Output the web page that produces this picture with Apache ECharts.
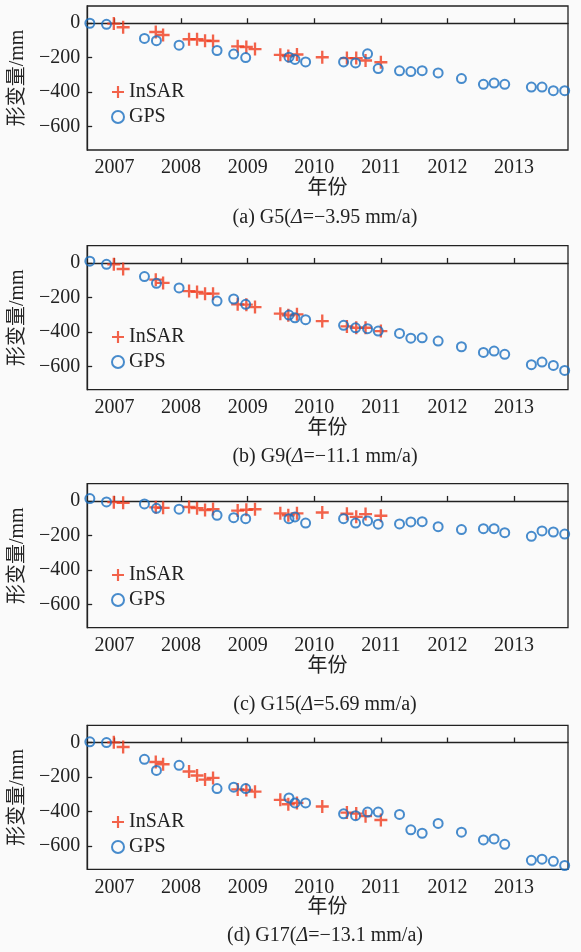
<!DOCTYPE html>
<html>
<head>
<meta charset="utf-8">
<script src="https://cdn.jsdelivr.net/npm/echarts@6/dist/echarts.min.js"></script>
<style>
  html, body { margin: 0; padding: 0; background: #fafafa; }
  #chart { width: 581px; height: 952px; }
</style>
</head>
<body>
<div id="chart"></div>
<script>
// acquisition dates (decimal year)
const gpsDates = [2006.63, 2006.88, 2007.45, 2007.63, 2007.97, 2008.54, 2008.79, 2008.97, 2009.62, 2009.71,
  2009.87, 2010.44, 2010.62, 2010.80, 2010.96, 2011.28, 2011.45, 2011.62, 2011.86, 2012.21,
  2012.54, 2012.70, 2012.86, 2013.26, 2013.42, 2013.59, 2013.76]
const insarDates = [2006.99, 2007.13, 2007.62, 2007.73, 2008.12, 2008.24, 2008.36, 2008.48, 2008.85, 2008.98,
  2009.11, 2009.49, 2009.61, 2009.74, 2010.12, 2010.49, 2010.63, 2010.77, 2011.00]

// deformation, mm
const g5Gps = [0, -6, -88, -101, -127, -158, -179, -199, -197, -210, -224, -224, -230, -177, -263, -276, -280, -275, -288, -321, -354, -347, -354, -370, -370, -391, -391]
const g5Insar = [-2, -23, -51, -68, -93, -93, -101, -103, -134, -138, -150, -183, -190, -181, -197, -202, -202, -216, -226]
const g9Gps = [10, -8, -79, -118, -145, -221, -209, -240, -302, -318, -329, -362, -376, -381, -395, -409, -436, -434, -453, -486, -519, -511, -530, -590, -575, -594, -623]
const g9Insar = [-8, -35, -97, -116, -163, -168, -178, -178, -240, -242, -256, -294, -304, -298, -337, -368, -376, -376, -395]
const g15Gps = [14, -6, -17, -43, -48, -83, -97, -103, -103, -93, -128, -103, -128, -116, -135, -133, -122, -120, -149, -166, -161, -161, -184, -205, -174, -180, -192]
const g15Insar = [-7, -11, -37, -40, -35, -42, -53, -47, -56, -51, -48, -72, -83, -72, -67, -74, -92, -76, -86]
const g17Gps = [4, 0, -97, -162, -132, -267, -259, -267, -321, -350, -350, -413, -424, -403, -403, -417, -506, -526, -469, -520, -565, -559, -590, -683, -676, -689, -713]
const g17Insar = [1, -26, -113, -126, -168, -191, -215, -205, -272, -275, -285, -332, -358, -350, -371, -406, -412, -427, -449]

const yearTicks = [2007, 2008, 2009, 2010, 2011, 2012, 2013]
const mmTicks = [0, -200, -400, -600]
const captions = ['(a) G5({i|Δ}=−3.95 mm/a)', '(b) G9({i|Δ}=−11.1 mm/a)', '(c) G15({i|Δ}=5.69 mm/a)', '(d) G17({i|Δ}=−13.1 mm/a)']

const panels = [[g5Insar, g5Gps], [g9Insar, g9Gps], [g15Insar, g15Gps], [g17Insar, g17Gps]]

const FONT = '"Liberation Serif", "Times New Roman", "Noto Sans CJK SC", serif'
const RED = '#f03c1e'
const BLUE = '#1a6fc0'
const PLUS = 'path://M4.1,0H5.9V4.1H10V5.9H5.9V10H4.1V5.9H0V4.1H4.1Z'

const gridTops = [6, 245.7, 483.7, 725.3]
const legendTops = [77, 322, 560, 807]
const captionY = [218, 457, 705, 936]

const zip = (xs, ys) => xs.map((x, i) => [x, ys[i]])
const minus = v => String(v).replace('-', '−')
const txt = { fontFamily: FONT, fontSize: 20, color: '#222' }

const grid = [], xAxis = [], yAxis = [], series = [], legend = [], graphic = []
gridTops.forEach((top, i) => {
  grid.push({
    left: 81.7, width: 486.3, top: top, height: 144,
    show: true, borderColor: '#222', borderWidth: 1.3, backgroundColor: 'transparent'
  })
  xAxis.push({
    type: 'value', gridIndex: i, min: 2006.59, max: 2013.81,
    name: '年份', nameLocation: 'middle', nameGap: 28, nameTextStyle: txt,
    axisLine: { lineStyle: { color: '#222', width: 1.3 } },
    axisTick: { inside: true, length: 5, customValues: yearTicks, lineStyle: { color: '#222', width: 1.3 } },
    axisLabel: { ...txt, customValues: yearTicks, margin: 8, formatter: v => String(v) },
    splitLine: { show: false }
  })
  yAxis.push({
    type: 'value', gridIndex: i, min: -735, max: 100,
    name: '形变量/mm', nameLocation: 'middle', nameGap: 50, nameTextStyle: txt,
    axisLine: { lineStyle: { color: '#222', width: 1.3 } },
    axisTick: { inside: true, length: 5, customValues: mmTicks, lineStyle: { color: '#222', width: 1.3 } },
    axisLabel: { ...txt, customValues: mmTicks, margin: 7, formatter: minus },
    splitLine: { show: false }
  })
  series.push({
    type: 'scatter', name: 'InSAR', xAxisIndex: i, yAxisIndex: i,
    data: zip(insarDates, panels[i][0]),
    symbol: PLUS, symbolSize: 13, itemStyle: { color: RED }
  })
  series.push({
    type: 'scatter', name: 'GPS', xAxisIndex: i, yAxisIndex: i,
    data: zip(gpsDates, panels[i][1]),
    symbol: 'circle', symbolSize: 9,
    itemStyle: { color: 'transparent', borderColor: BLUE, borderWidth: 2 }
  })
  legend.push({
    orient: 'vertical', left: 106, top: legendTops[i], itemWidth: 12, itemHeight: 12, itemGap: 5,
    selectedMode: false, textStyle: txt,
    data: [
      { name: 'InSAR', icon: PLUS, itemStyle: { color: RED } },
      { name: 'GPS', icon: 'circle', itemStyle: { color: 'transparent', borderColor: BLUE, borderWidth: 2 } }
    ]
  })
  graphic.push({
    type: 'text', x: 325, y: captionY[i],
    style: {
      text: captions[i], align: 'center', verticalAlign: 'middle',
      fontFamily: FONT, fontSize: 20, fill: '#222',
      rich: { i: { fontFamily: FONT, fontSize: 20, fontStyle: 'italic', fill: '#222' } }
    }
  })
})

const chart = echarts.init(document.getElementById('chart'))
chart.setOption({
  animation: false,
  backgroundColor: '#fafafa',
  textStyle: { fontFamily: FONT },
  grid, xAxis, yAxis, series, legend, graphic
})
</script>
</body>
</html>
